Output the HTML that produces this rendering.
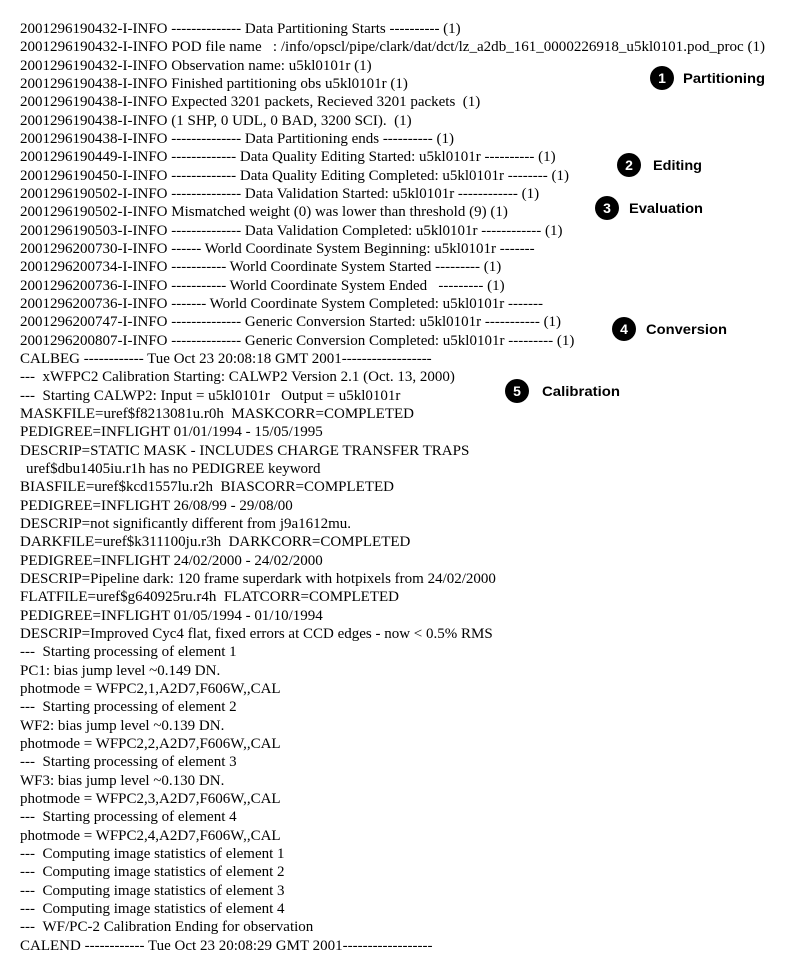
<!DOCTYPE html>
<html><head><meta charset="utf-8"><style>
html,body{margin:0;padding:0;background:#fff;width:791px;height:978px;overflow:hidden}
svg text{font-family:"Liberation Serif",serif;font-size:15px;fill:#000}
svg text.l{font-family:"Liberation Sans",sans-serif;font-weight:bold;font-size:14px}
svg text.n{font-family:"Liberation Sans",sans-serif;font-weight:bold;font-size:14px;fill:#fff}
</style></head><body>
<svg width="791" height="978" xmlns="http://www.w3.org/2000/svg">
<g>
<text x="20" y="33">2001296190432-I-INFO -------------- Data Partitioning Starts ---------- (1)</text>
<text x="20" y="51" textLength="745" lengthAdjust="spacingAndGlyphs">2001296190432-I-INFO POD file name &#160; : /info/opscl/pipe/clark/dat/dct/lz_a2db_161_0000226918_u5kl0101.pod_proc (1)</text>
<text x="20" y="70">2001296190432-I-INFO Observation name: u5kl0101r (1)</text>
<text x="20" y="88">2001296190438-I-INFO Finished partitioning obs u5kl0101r (1)</text>
<text x="20" y="106">2001296190438-I-INFO Expected 3201 packets, Recieved 3201 packets &#160;(1)</text>
<text x="20" y="125">2001296190438-I-INFO (1 SHP, 0 UDL, 0 BAD, 3200 SCI). &#160;(1)</text>
<text x="20" y="143">2001296190438-I-INFO -------------- Data Partitioning ends ---------- (1)</text>
<text x="20" y="161">2001296190449-I-INFO ------------- Data Quality Editing Started: u5kl0101r ---------- (1)</text>
<text x="20" y="180">2001296190450-I-INFO ------------- Data Quality Editing Completed: u5kl0101r -------- (1)</text>
<text x="20" y="198">2001296190502-I-INFO -------------- Data Validation Started: u5kl0101r ------------ (1)</text>
<text x="20" y="216">2001296190502-I-INFO Mismatched weight (0) was lower than threshold (9) (1)</text>
<text x="20" y="235">2001296190503-I-INFO -------------- Data Validation Completed: u5kl0101r ------------ (1)</text>
<text x="20" y="253">2001296200730-I-INFO ------ World Coordinate System Beginning: u5kl0101r -------</text>
<text x="20" y="271">2001296200734-I-INFO ----------- World Coordinate System Started --------- (1)</text>
<text x="20" y="290">2001296200736-I-INFO ----------- World Coordinate System Ended &#160; --------- (1)</text>
<text x="20" y="308">2001296200736-I-INFO ------- World Coordinate System Completed: u5kl0101r -------</text>
<text x="20" y="326">2001296200747-I-INFO -------------- Generic Conversion Started: u5kl0101r ----------- (1)</text>
<text x="20" y="345">2001296200807-I-INFO -------------- Generic Conversion Completed: u5kl0101r --------- (1)</text>
<text x="20" y="363">CALBEG ------------ Tue Oct 23 20:08:18 GMT 2001------------------</text>
<text x="20" y="381">--- &#160;xWFPC2 Calibration Starting: CALWP2 Version 2.1 (Oct. 13, 2000)</text>
<text x="20" y="400">--- &#160;Starting CALWP2: Input = u5kl0101r &#160; Output = u5kl0101r</text>
<text x="20" y="418">MASKFILE=uref$f8213081u.r0h &#160;MASKCORR=COMPLETED</text>
<text x="20" y="436">PEDIGREE=INFLIGHT 01/01/1994 - 15/05/1995</text>
<text x="20" y="455">DESCRIP=STATIC MASK - INCLUDES CHARGE TRANSFER TRAPS</text>
<text x="26" y="473">uref$dbu1405iu.r1h has no PEDIGREE keyword</text>
<text x="20" y="491">BIASFILE=uref$kcd1557lu.r2h &#160;BIASCORR=COMPLETED</text>
<text x="20" y="510">PEDIGREE=INFLIGHT 26/08/99 - 29/08/00</text>
<text x="20" y="528">DESCRIP=not significantly different from j9a1612mu.</text>
<text x="20" y="546">DARKFILE=uref$k311100ju.r3h &#160;DARKCORR=COMPLETED</text>
<text x="20" y="565">PEDIGREE=INFLIGHT 24/02/2000 - 24/02/2000</text>
<text x="20" y="583">DESCRIP=Pipeline dark: 120 frame superdark with hotpixels from 24/02/2000</text>
<text x="20" y="601">FLATFILE=uref$g640925ru.r4h &#160;FLATCORR=COMPLETED</text>
<text x="20" y="620">PEDIGREE=INFLIGHT 01/05/1994 - 01/10/1994</text>
<text x="20" y="638">DESCRIP=Improved Cyc4 flat, fixed errors at CCD edges - now &lt; 0.5% RMS</text>
<text x="20" y="656">--- &#160;Starting processing of element 1</text>
<text x="20" y="675">PC1: bias jump level ~0.149 DN.</text>
<text x="20" y="693">photmode = WFPC2,1,A2D7,F606W,,CAL</text>
<text x="20" y="711">--- &#160;Starting processing of element 2</text>
<text x="20" y="730">WF2: bias jump level ~0.139 DN.</text>
<text x="20" y="748">photmode = WFPC2,2,A2D7,F606W,,CAL</text>
<text x="20" y="766">--- &#160;Starting processing of element 3</text>
<text x="20" y="785">WF3: bias jump level ~0.130 DN.</text>
<text x="20" y="803">photmode = WFPC2,3,A2D7,F606W,,CAL</text>
<text x="20" y="821">--- &#160;Starting processing of element 4</text>
<text x="20" y="840">photmode = WFPC2,4,A2D7,F606W,,CAL</text>
<text x="20" y="858">--- &#160;Computing image statistics of element 1</text>
<text x="20" y="876">--- &#160;Computing image statistics of element 2</text>
<text x="20" y="895">--- &#160;Computing image statistics of element 3</text>
<text x="20" y="913">--- &#160;Computing image statistics of element 4</text>
<text x="20" y="931">--- &#160;WF/PC-2 Calibration Ending for observation</text>
<text x="20" y="950">CALEND ------------ Tue Oct 23 20:08:29 GMT 2001------------------</text>
</g>
<circle cx="662" cy="78" r="12" fill="#000"/><text class="n" x="662" y="83" text-anchor="middle">1</text>
<text class="l" x="683" y="83" textLength="82" lengthAdjust="spacingAndGlyphs">Partitioning</text>
<circle cx="629" cy="165" r="12" fill="#000"/><text class="n" x="629" y="170" text-anchor="middle">2</text>
<text class="l" x="653" y="170" textLength="49" lengthAdjust="spacingAndGlyphs">Editing</text>
<circle cx="607" cy="208" r="12" fill="#000"/><text class="n" x="607" y="213" text-anchor="middle">3</text>
<text class="l" x="629" y="213" textLength="74" lengthAdjust="spacingAndGlyphs">Evaluation</text>
<circle cx="624" cy="329" r="12" fill="#000"/><text class="n" x="624" y="334" text-anchor="middle">4</text>
<text class="l" x="646" y="334" textLength="81" lengthAdjust="spacingAndGlyphs">Conversion</text>
<circle cx="517" cy="391" r="12" fill="#000"/><text class="n" x="517" y="396" text-anchor="middle">5</text>
<text class="l" x="542" y="396" textLength="78" lengthAdjust="spacingAndGlyphs">Calibration</text>
</svg>
</body></html>
